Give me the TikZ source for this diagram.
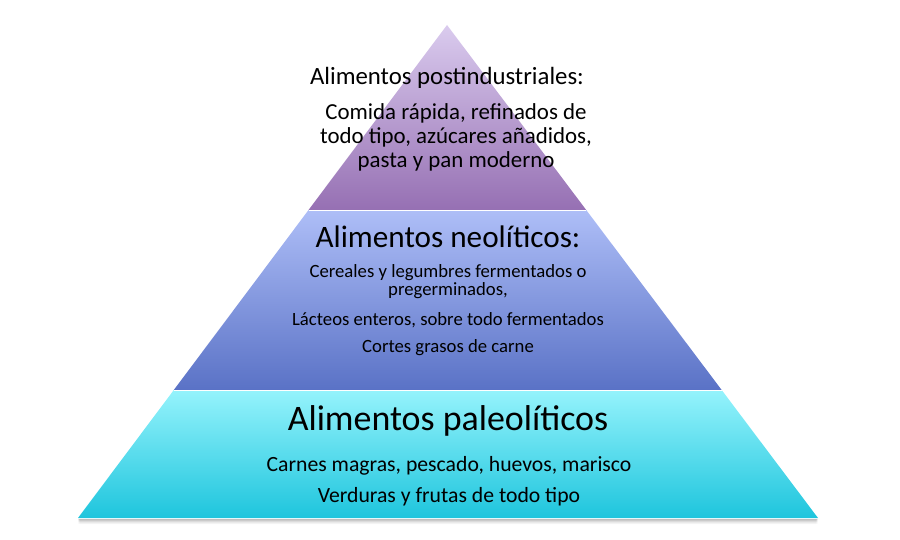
\documentclass[tikz,border=0pt]{standalone}
\usepackage{fontspec}
\setmainfont{Carlito}
\usetikzlibrary{positioning,calc}

\definecolor{postTop}{HTML}{DACBEE}
\definecolor{postBot}{HTML}{9670B3}
\definecolor{neoTop}{HTML}{AEBEF7}
\definecolor{neoBot}{HTML}{5A72C6}
\definecolor{paleoTop}{HTML}{95F3FC}
\definecolor{paleoBot}{HTML}{1EC5DD}

\begin{document}
\begin{tikzpicture}[x=1pt, y=-1pt,
    layer/.style={line width=0pt},
    head/.style={align=center, inner sep=0pt, text=black},
    body/.style={align=center, inner sep=0pt, text=black},
    sep/.style={white, line width=1pt},
  ]
  \useasboundingbox (0,0) rectangle (900,540);

  % Corners of the pyramid
  \coordinate (apex) at (447,25);
  \coordinate (bl) at (78,518);
  \coordinate (br) at (818,518);
  \coordinate (ul) at ($(apex)!0.3753!(bl)$);
  \coordinate (ur) at ($(apex)!0.3753!(br)$);
  \coordinate (ll) at ($(apex)!0.7404!(bl)$);
  \coordinate (lr) at ($(apex)!0.7404!(br)$);

  % Shadow
  \foreach \d/\o in {1/0.25,2/0.18,3/0.12,4/0.07,5/0.04}{
    \fill[black, opacity=\o] ($(bl)+(0,\d)$) -- ($(br)+(0,\d)$) -- ($(br)+(-2,\d+1)$) -- ($(bl)+(2,\d+1)$) -- cycle;
  }

  % Layers
  \shade[layer, top color=postTop, bottom color=postBot] (apex) -- (ur) -- (ul) -- cycle;
  \shade[layer, top color=neoTop, bottom color=neoBot] (ul) -- (ur) -- (lr) -- (ll) -- cycle;
  \shade[layer, top color=paleoTop, bottom color=paleoBot] (ll) -- (lr) -- (br) -- (bl) -- cycle;
  \draw[sep] (ul) -- (ur);
  \draw[sep] (ll) -- (lr);

  % Top layer texts
  \node[head, font=\fontsize{24.8}{28}\selectfont] (postH) at (447,78) {Alimentos postindustriales:};
  \node[body, font=\fontsize{22.9}{24}\selectfont] (postB) at (456,137)
    {Comida rápida, refinados de\\todo tipo, azúcares añadidos,\\pasta y pan moderno};

  % Middle layer texts
  \node[head, font=\fontsize{31.2}{34}\selectfont] (neoH) at (448,237) {Alimentos neolíticos:};
  \node[body, font=\fontsize{18.7}{18}\selectfont] (neoB1) at (448,282)
    {Cereales y legumbres fermentados o\\pregerminados,};
  \node[body, font=\fontsize{18.7}{20}\selectfont] (neoB2) at (448,320) {Lácteos enteros, sobre todo fermentados};
  \node[body, font=\fontsize{18.7}{20}\selectfont] (neoB3) at (448,348) {Cortes grasos de carne};

  % Bottom layer texts
  \node[head, font=\fontsize{35.9}{40}\selectfont] (paleoH) at (448,421) {Alimentos paleolíticos};
  \node[body, font=\fontsize{21.7}{24}\selectfont] (paleoB1) at (449,466) {Carnes magras, pescado, huevos, marisco};
  \node[body, font=\fontsize{21.7}{24}\selectfont] (paleoB2) at (449,497) {Verduras y frutas de todo tipo};
\end{tikzpicture}
\end{document}
